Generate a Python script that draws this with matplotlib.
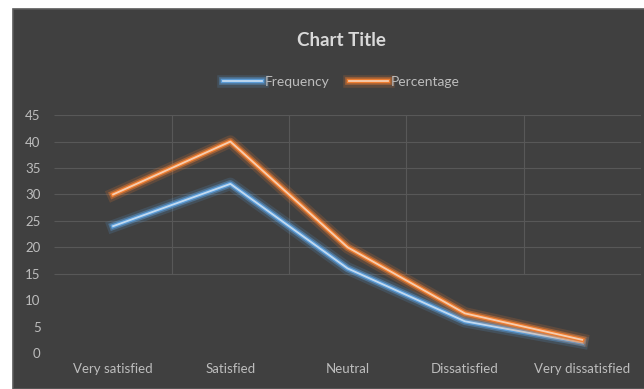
import numpy as np
import matplotlib.pyplot as plt
import matplotlib.patheffects as pe

categories = ["Very satisfied", "Satisfied", "Neutral", "Dissatisfied", "Very dissatisfied"]
frequency = [24, 32, 16, 6, 2]
percentage = [30, 40, 20, 7.5, 2.5]
y_ticks = [0, 5, 10, 15, 20, 25, 30, 35, 40, 45]

plt.rcParams['font.family'] = ['Lato', 'DejaVu Sans']

bg = '#404040'
txt = '#bdbdbd'

fig = plt.figure(figsize=(6.44, 3.89), dpi=100)
fig.patch.set_facecolor('white')
# dark chart area with a white strip along top and left
fig.add_artist(plt.Rectangle((13 / 644, 0), 1, 1 - 9 / 389, transform=fig.transFigure,
                             facecolor=bg, edgecolor='#5a5a5a', linewidth=1.2, zorder=0))

ax = fig.add_axes([0.0846, 0.0925, 0.9104, 0.6115])
ax.set_facecolor(bg)
ax.patch.set_alpha(0)

x = np.arange(len(categories))
ax.set_xlim(-0.5, len(categories) - 0.5)
ax.set_ylim(0, 45)

# grid in the upper part of the plot
grid_c = '#585858'
ax.hlines([15, 20, 25, 30, 35, 40, 45], -0.5, len(categories) - 0.5, color=grid_c, lw=0.8, zorder=1)
ax.vlines(np.arange(len(categories)) + 0.5, 15, 45, color=grid_c, lw=0.8, zorder=1)

def glow(color, inner):
    return [pe.Stroke(linewidth=9, foreground=color, alpha=0.18),
            pe.Stroke(linewidth=5.5, foreground=color, alpha=0.45),
            pe.Stroke(linewidth=3.2, foreground=color),
            pe.Stroke(linewidth=1.3, foreground=inner),
            pe.Normal()]

ax.plot(x, frequency, color='#5b9bd5', lw=0.01, label='Frequency', zorder=3,
        path_effects=glow('#5b9bd5', '#c4dcf2'))
ax.plot(x, percentage, color='#ed7d31', lw=0.01, label='Percentage', zorder=4,
        path_effects=glow('#ed7d31', '#f8cfb2'))

ax.set_xticks(x)
ax.set_xticklabels(categories)
ax.set_yticks(y_ticks)
ax.tick_params(colors=txt, labelsize=9.5, length=0, pad=7)
ax.tick_params(axis='y', pad=10)
for s in ax.spines.values():
    s.set_visible(False)

fig.text(0.53, 0.895, "Chart Title", ha='center', va='center', fontsize=13.5,
         fontweight='bold', color='#d9d9d9')

handles, labels = ax.get_legend_handles_labels()
leg = fig.legend(handles, labels, loc='center', bbox_to_anchor=(0.53, 0.79), ncol=2,
                 frameon=False, fontsize=10, handlelength=2.8, handletextpad=0.2,
                 columnspacing=1.4)
for t in leg.get_texts():
    t.set_color(txt)

fig.savefig('out.png', dpi=100, facecolor=fig.get_facecolor())
